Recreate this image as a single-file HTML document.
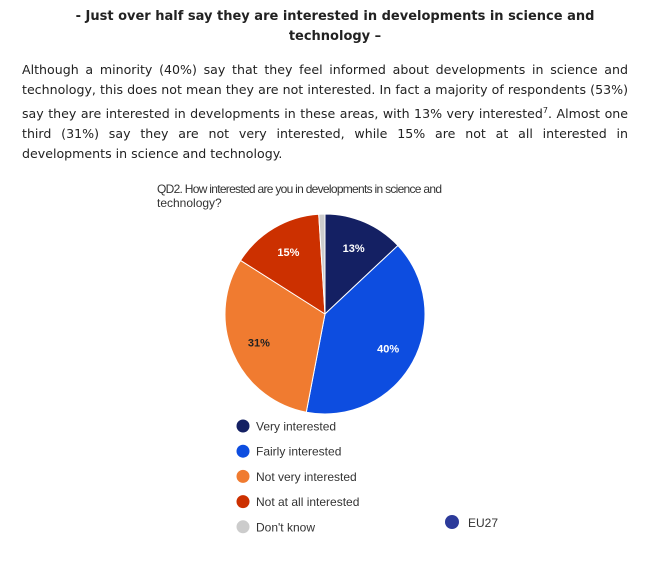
<!DOCTYPE html>
<html><head><meta charset="utf-8"><style>
body{margin:0;width:669px;height:561px;background:#fff;font-family:"DejaVu Sans","Liberation Sans",sans-serif;color:#222;position:relative;overflow:hidden}
#title{position:absolute;left:40px;width:590px;top:7px;text-align:center;font-weight:bold;font-size:13px;line-height:20px}
#para{position:absolute;left:22px;width:606px;top:60px;text-align:justify;font-size:12.6px;line-height:20.3px}
svg{position:absolute;left:0;top:0}
svg text{font-family:"Liberation Sans",sans-serif}
</style></head><body>
<div id="title">- Just over half say they are interested in developments in science and technology –</div>
<div id="para">Although a minority (40%) say that they feel informed about developments in science and technology, this does not mean they are not interested. In fact a majority of respondents (53%) say they are interested in developments in these areas, with 13% very interested<sup style="font-size:8px">7</sup>. Almost one third (31%) say they are not very interested, while 15% are not at all interested in developments in science and technology.</div>
<svg id="chart" width="669" height="561">
<text x="157" y="193" font-size="12" fill="#333" textLength="285">QD2. How interested are you in developments in science and</text>
<text x="157" y="207" font-size="12" fill="#333">technology?</text>
<g id="slices"></g>
<g id="legend"></g>
<circle cx="452" cy="522" r="7" fill="#2c3a9a"/>
<text x="468" y="527" font-size="12" fill="#333">EU27</text>
</svg>
<script>
const categories=["Very interested","Fairly interested","Not very interested","Not at all interested","Don't know"];
const values=[13,40,31,15,1];
const labels=["13%","40%","31%","15%",""];
const colors=["#142063","#0d4de0","#f07b30","#cc3000","#cccccc"];
const labelColors=["#fff","#fff","#222","#fff","#fff"];
const cx=325,cy=314,r=100;
const ns="http://www.w3.org/2000/svg";
const total=values.reduce((a,b)=>a+b,0);
function pt(a,rr){return [cx+rr*Math.sin(a),cy-rr*Math.cos(a)];}
let acc=0;
const g=document.getElementById('slices');
values.forEach((v,i)=>{
 const a0=acc/total*2*Math.PI;acc+=v;const a1=acc/total*2*Math.PI;
 const p0=pt(a0,r),p1=pt(a1,r);
 const p=document.createElementNS(ns,'path');
 p.setAttribute('d',`M${cx},${cy}L${p0[0]},${p0[1]}A${r},${r} 0 ${a1-a0>Math.PI?1:0} 1 ${p1[0]},${p1[1]}Z`);
 p.setAttribute('fill',colors[i]);p.setAttribute('stroke','#fff');p.setAttribute('stroke-width','1');
 
 
 g.appendChild(p);
 if(labels[i]){const m=(a0+a1)/2;const lp=pt(m,r*0.72);
  const t=document.createElementNS(ns,'text');
  t.setAttribute('x',lp[0]);t.setAttribute('y',lp[1]+4);t.setAttribute('text-anchor','middle');
  t.setAttribute('font-size','11');t.setAttribute('font-weight','bold');t.setAttribute('fill',labelColors[i]);
  t.textContent=labels[i];
  
  
  g.appendChild(t);}
});
const lg=document.getElementById('legend');
categories.forEach((c,i)=>{
 const y=426+i*25.2;
 const ci=document.createElementNS(ns,'circle');
 ci.setAttribute('cx',243);ci.setAttribute('cy',y);ci.setAttribute('r',6.5);ci.setAttribute('fill',colors[i]);
 
 
 lg.appendChild(ci);
 const t=document.createElementNS(ns,'text');
 t.setAttribute('x',256);t.setAttribute('y',y+4.5);t.setAttribute('font-size','12');t.setAttribute('fill','#333');
 t.textContent=c;
 
 
 lg.appendChild(t);
});
</script>
</body></html>
